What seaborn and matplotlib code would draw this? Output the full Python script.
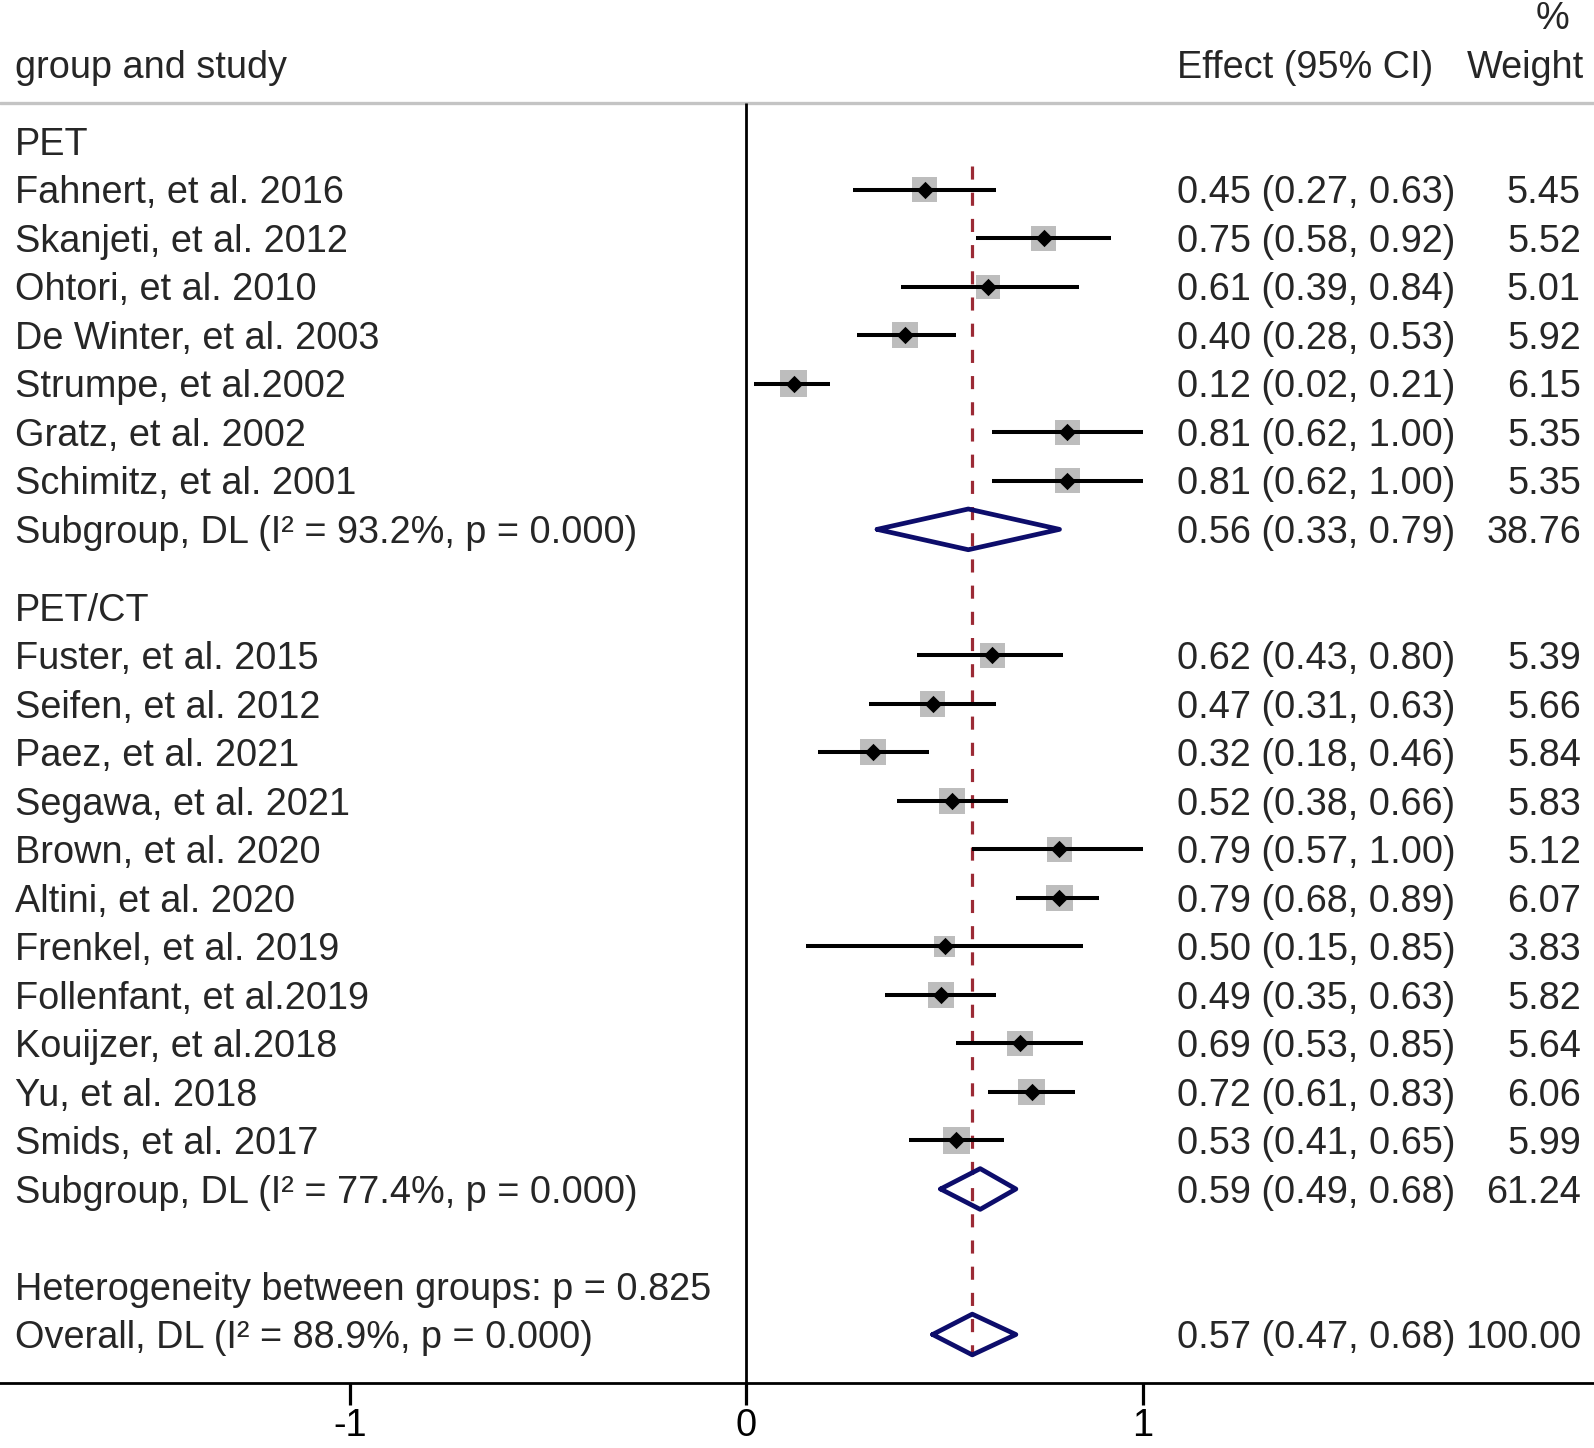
import matplotlib
matplotlib.use("Agg")
import matplotlib.pyplot as plt
import seaborn as sns
import pandas as pd

sns.set_theme(style="white")
plt.rcParams['font.family'] = ['Liberation Sans', 'DejaVu Sans']
plt.rcParams['axes.unicode_minus'] = False

# ---- data ----
pet_studies = ["Fahnert, et al. 2016", "Skanjeti, et al. 2012", "Ohtori, et al. 2010",
               "De Winter, et al. 2003", "Strumpe, et al.2002", "Gratz, et al. 2002",
               "Schimitz, et al. 2001"]
pet_es = [0.45, 0.75, 0.61, 0.40, 0.12, 0.81, 0.81]
pet_lo = [0.27, 0.58, 0.39, 0.28, 0.02, 0.62, 0.62]
pet_hi = [0.63, 0.92, 0.84, 0.53, 0.21, 1.00, 1.00]
pet_w = [5.45, 5.52, 5.01, 5.92, 6.15, 5.35, 5.35]

petct_studies = ["Fuster, et al. 2015", "Seifen, et al. 2012", "Paez, et al. 2021",
                 "Segawa, et al. 2021", "Brown, et al. 2020", "Altini, et al. 2020",
                 "Frenkel, et al. 2019", "Follenfant, et al.2019", "Kouijzer, et al.2018",
                 "Yu, et al. 2018", "Smids, et al. 2017"]
petct_es = [0.62, 0.47, 0.32, 0.52, 0.79, 0.79, 0.50, 0.49, 0.69, 0.72, 0.53]
petct_lo = [0.43, 0.31, 0.18, 0.38, 0.57, 0.68, 0.15, 0.35, 0.53, 0.61, 0.41]
petct_hi = [0.80, 0.63, 0.46, 0.66, 1.00, 0.89, 0.85, 0.63, 0.85, 0.83, 0.65]
petct_w = [5.39, 5.66, 5.84, 5.83, 5.12, 6.07, 3.83, 5.82, 5.64, 6.06, 5.99]

groups = ["PET", "PET/CT"]
sub_es = [0.56, 0.59]
sub_lo = [0.33, 0.49]
sub_hi = [0.79, 0.68]
sub_w = [38.76, 61.24]
sub_i2 = [93.2, 77.4]
sub_p = [0.000, 0.000]

het_p = 0.825
overall_es, overall_lo, overall_hi = 0.57, 0.47, 0.68
overall_i2, overall_p = 88.9, 0.000

xticks = [-1, 0, 1]

# ---- row layout (row units, top = 0) ----
GROUP_GAP = 1.6
rows = []  # (kind, label, es, lo, hi, w, y)
y = 0.0
for g, names, es, lo, hi, w, k in [
        ("PET", pet_studies, pet_es, pet_lo, pet_hi, pet_w, 0),
        ("PET/CT", petct_studies, petct_es, petct_lo, petct_hi, petct_w, 1)]:
    rows.append(("group", g, None, None, None, None, y))
    y += 1
    for i in range(len(names)):
        rows.append(("study", names[i], es[i], lo[i], hi[i], w[i], y))
        y += 1
    lab = f"Subgroup, DL (I\u00b2 = {sub_i2[k]:.1f}%, p = {sub_p[k]:.3f})"
    rows.append(("pooled", lab, sub_es[k], sub_lo[k], sub_hi[k], sub_w[k], y))
    y += GROUP_GAP
y = y - GROUP_GAP + 2
rows.append(("text", f"Heterogeneity between groups: p = {het_p:.3f}", None, None, None, None, y))
y += 1
rows.append(("pooled", f"Overall, DL (I\u00b2 = {overall_i2:.1f}%, p = {overall_p:.3f})",
             overall_es, overall_lo, overall_hi, 100.0, y))
y_overall = y
y_axis = y + 1.0

df = pd.DataFrame(rows, columns=["kind", "label", "es", "lo", "hi", "w", "y"])
studies = df[df.kind == "study"]

fig, ax = plt.subplots(figsize=(15.94, 14.48), dpi=100)
ax.set_position([0, 0, 1, 1])
ax.set_xlim(-1.882, 2.138)
ax.set_ylim(26.94, -2.914)

FS = 27.3
BASE = 0.28  # baseline offset so caps are centred on the row
X_LABEL = -1.844
X_EFFECT = 1.087
X_WEIGHT = 2.105

# header
ax.text(X_LABEL, -1.59 + BASE, "group and study", fontsize=FS, ha="left", va="baseline")
ax.text(X_EFFECT, -1.59 + BASE, "Effect (95% CI)", fontsize=FS, ha="left", va="baseline")
ax.text(X_WEIGHT + 0.008, -1.59 + BASE, "Weight", fontsize=FS, ha="right", va="baseline")
ax.text(X_WEIGHT - 0.03, -2.6 + BASE, "%", fontsize=FS, ha="right", va="baseline")
ax.axhline(-0.8, color="#c4c4c4", lw=2.4)

# null line and overall effect line
ax.vlines(0, -0.8, y_axis, color="black", lw=2.0)
ax.vlines(overall_es, 0.5, y_overall + 0.45, color="#9b2a35", lw=2.3,
          linestyles=(0, (4.1, 4.1)))

# study CIs, weight squares, point estimates
ax.hlines(studies.y, studies.lo, studies.hi, color="black", lw=2.9, zorder=3)
sns.scatterplot(data=studies, x="es", y="y", size="w", sizes=(60.2 * studies.w.min(), 60.2 * studies.w.max()),
                size_norm=(studies.w.min(), studies.w.max()), marker="s", color="#bdbdbd",
                linewidth=0, legend=False, ax=ax, zorder=2)
sns.scatterplot(data=studies, x="es", y="y", marker="D", color="black", s=78,
                linewidth=0, legend=False, ax=ax, zorder=4)

# pooled diamonds
H = 0.42
for _, r in df[df.kind == "pooled"].iterrows():
    ax.plot([r.lo, r.es, r.hi, r.es, r.lo], [r.y, r.y - H, r.y, r.y + H, r.y],
            color="#0d0d6b", lw=3.4, solid_joinstyle="round", zorder=5)

# text columns
for _, r in df.iterrows():
    ax.text(X_LABEL, r.y + BASE, r.label, fontsize=FS, ha="left", va="baseline")
    if r.kind in ("study", "pooled"):
        ax.text(X_EFFECT, r.y + BASE, f"{r.es:.2f} ({r.lo:.2f}, {r.hi:.2f})",
                fontsize=FS, ha="left", va="baseline")
        ax.text(X_WEIGHT, r.y + BASE, f"{r.w:.2f}", fontsize=FS, ha="right", va="baseline")

# x axis
for s in ["top", "left", "right"]:
    ax.spines[s].set_visible(False)
ax.spines["bottom"].set_position(("data", y_axis))
ax.spines["bottom"].set_linewidth(2.0)
ax.spines["bottom"].set_color("black")
ax.set_xticks(xticks)
ax.set_xticklabels([str(t) for t in xticks])
ax.set_yticks([])
ax.tick_params(axis="x", direction="out", length=16, width=2.3, colors="black",
               labelsize=FS, pad=2, bottom=True)
ax.set_xlabel("")
ax.set_ylabel("")

fig.savefig("out.png", dpi=100)
